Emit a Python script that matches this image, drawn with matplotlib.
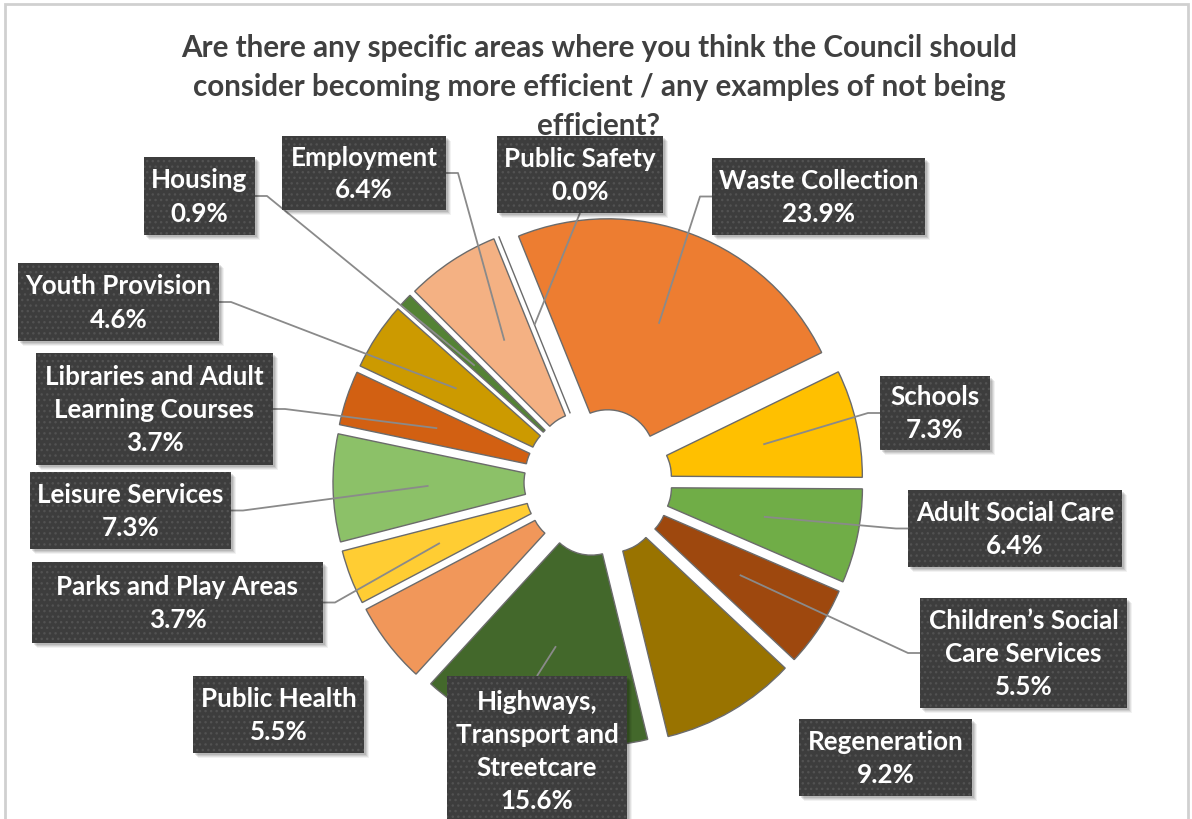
import matplotlib
matplotlib.use('Agg')
import matplotlib.pyplot as plt
from matplotlib.patches import Rectangle
import numpy as np

# data (clockwise from the first slice)
categories = ['Waste Collection', 'Schools', 'Adult Social Care',
              'Children’s Social Care Services', 'Regeneration',
              'Highways, Transport and Streetcare', 'Public Health',
              'Parks and Play Areas', 'Leisure Services',
              'Libraries and Adult Learning Courses', 'Youth Provision',
              'Housing', 'Employment', 'Public Safety']
shares = [23.9, 7.3, 6.4, 5.5, 9.2, 15.6, 5.5, 3.7, 7.3, 3.7, 4.6, 0.9, 6.4, 0.0]
colors = ['#ED7D31', '#FFC000', '#70AD47', '#9E480E', '#997300', '#43682B',
          '#F1975A', '#FFCD33', '#8CC168', '#D26012', '#CC9A00', '#548235',
          '#F4B183', '#FFD966']

title = ('Are there any specific areas where you think the Council should\n'
         'consider becoming more efficient / any examples of not being\n'
         'efficient?')

# how the labels wrap inside their boxes
wrapped = {
    'Children’s Social Care Services': 'Children’s Social\nCare Services',
    'Highways, Transport and Streetcare': 'Highways,\nTransport and\nStreetcare',
    'Libraries and Adult Learning Courses': 'Libraries and Adult\nLearning Courses',
}

# label boxes in image pixels: left, top, right, bottom, where the leader leaves
boxes = {
    'Waste Collection': (712, 159, 925, 236, 'left'),
    'Schools': (880, 377, 990, 451, 'left'),
    'Adult Social Care': (908, 491, 1122, 568, 'left'),
    'Children’s Social Care Services': (920, 599, 1127, 709, 'left'),
    'Regeneration': (799, 720, 972, 797, None),
    'Highways, Transport and Streetcare': (447, 677, 627, 826, 'top'),
    'Public Health': (193, 677, 364, 754, None),
    'Parks and Play Areas': (32, 563, 323, 644, 'right'),
    'Leisure Services': (30, 473, 231, 550, 'right'),
    'Libraries and Adult Learning Courses': (36, 354, 273, 466, 'right'),
    'Youth Provision': (18, 264, 219, 342, 'right'),
    'Housing': (144, 158, 255, 236, 'right'),
    'Employment': (282, 137, 446, 211, 'right'),
    'Public Safety': (497, 137, 663, 214, 'bottom'),
}

W, H = 1192, 820
FONT = 'Lato'

fig = plt.figure(figsize=(W / 100, H / 100), dpi=100)
ax = fig.add_axes([0, 0, 1, 1])

CX, CY = 598, H - 483
R = 238
HOLE = 47
EXPLODE = 27

wedges, _ = ax.pie(shares, colors=colors, radius=R, center=(CX, CY),
                   startangle=112, counterclock=False,
                   explode=[EXPLODE] * len(shares),
                   wedgeprops=dict(width=R - HOLE, edgecolor='#6b6b6b',
                                   linewidth=1))
ax.set_xlim(0, W)
ax.set_ylim(0, H)
ax.set_aspect('equal')
ax.axis('off')

# chart border (bottom runs off the picture)
ax.add_patch(Rectangle((5, -20), 1183, H - 5 + 20, fill=False,
                       edgecolor='#d0d0d0', linewidth=2, zorder=0,
                       clip_on=False))

ax.text(599, H - 87, title, ha='center', va='center', fontsize=21.3,
        fontweight='bold', color='#404040', family=FONT, linespacing=1.48)

for cat, share, w in zip(categories, shares, wedges):
    left, top, right, bottom, side = boxes[cat]
    yt, yb = H - top, H - bottom
    ymid = (yt + yb) / 2
    xmid = (left + right) / 2

    # leader line to the middle of the slice
    if side is not None:
        ang = np.deg2rad((w.theta1 + w.theta2) / 2)
        rm = w.r - w.width / 2
        px = w.center[0] + rm * np.cos(ang)
        py = w.center[1] + rm * np.sin(ang)
        if side == 'left':
            xs, ys = [left, left - 12, px], [ymid, ymid, py]
        elif side == 'right':
            xs, ys = [right, right + 12, px], [ymid, ymid, py]
        elif side == 'top':
            xs, ys = [xmid, px], [yt, py]
        else:
            xs, ys = [xmid, px], [yb, py]
        ax.plot(xs, ys, color='#8a8a8a', linewidth=1.3, zorder=2,
                solid_capstyle='butt')

    # soft shadow
    for k, a in [(2, 0.10), (3, 0.09), (4, 0.07), (5, 0.05)]:
        ax.add_patch(Rectangle((left + k, yb - k), right - left, yt - yb,
                               facecolor='black', alpha=a, linewidth=0,
                               zorder=3))
    ax.add_patch(Rectangle((left, yb), right - left, yt - yb,
                           facecolor='#3d3d3d', edgecolor='none', zorder=3.1))
    ax.add_patch(Rectangle((left, yb), right - left, yt - yb,
                           facecolor='none', edgecolor='#525252', hatch='...',
                           linewidth=0, zorder=3.2))

    label = wrapped.get(cat, cat) + '\n' + f'{share:.1f}%'
    ax.text(xmid, ymid, label, ha='center', va='center', fontsize=18.7,
            fontweight='bold', color='white', family=FONT,
            linespacing=1.45, zorder=4)

plt.savefig('out.png', dpi=100)
plt.close()
